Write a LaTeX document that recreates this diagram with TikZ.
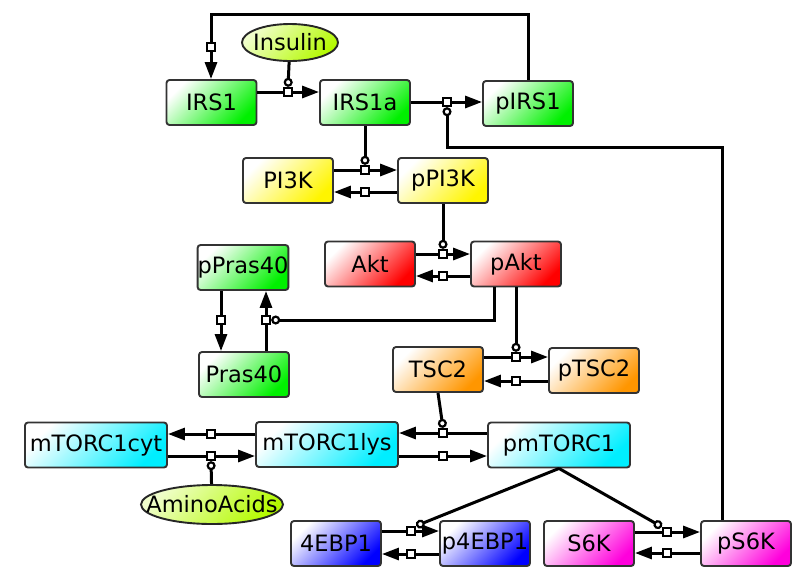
\documentclass[tikz,border=0pt]{standalone}
\usepackage{fontspec}
\setmainfont{DejaVu Sans}
\usetikzlibrary{shapes.geometric,arrows.meta}
\definecolor{cgreen}{RGB}{0,240,0}
\definecolor{cyellow}{RGB}{255,245,0}
\definecolor{cred}{RGB}{255,0,0}
\definecolor{corange}{RGB}{255,150,0}
\definecolor{ccyan}{RGB}{0,238,255}
\definecolor{cblue}{RGB}{0,0,255}
\definecolor{cmagenta}{RGB}{255,0,220}
\definecolor{clime}{RGB}{180,250,0}
\tikzset{species/.style={draw=black!80, line width=1.9pt, rounded corners=3pt,
    minimum width=90pt, minimum height=45pt, inner sep=0pt,
    font=\fontsize{22.5}{27}\selectfont,
    top color=white, bottom color=#1, shading angle=45}}
\tikzset{wide/.style={species=#1, minimum width=142pt}}
\tikzset{ligand/.style={ellipse, draw=black!85, line width=1.9pt, inner sep=0pt,
    font=\fontsize{22.5}{27}\selectfont,
    top color=clime!20!white, bottom color=clime, shading angle=45}}
\tikzstyle{proc} = [draw, fill=white, line width=2.4pt, minimum size=8pt, inner sep=0pt]
\tikzstyle{line} = [line width=3pt]
\tikzstyle{arrow} = [line width=3pt, -{Triangle[length=17pt,width=12pt]}]
\tikzstyle{catal} = [line width=3pt, -{Circle[open,length=9pt,width=9pt,line width=2.2pt]}]

\begin{document}
\begin{tikzpicture}[x=1pt,y=-1pt]
  \useasboundingbox (0,0) rectangle (810,579);
  % species
  \node[ligand, minimum width=96pt, minimum height=37pt] (ins) at (290,42.5) {\makebox[0pt]{Insulin}};
  \node[species=cgreen] (IRS1) at (211.5,102.5) {IRS1};
  \node[species=cgreen] (IRS1a) at (365,102.5) {IRS1a};
  \node[species=cgreen] (pIRS1) at (528,103.5) {pIRS1};
  \node[species=cyellow] (PI3K) at (288,180.5) {PI3K};
  \node[species=cyellow] (pPI3K) at (443,180.5) {pPI3K};
  \node[species=cred] (Akt) at (370,264) {Akt};
  \node[species=cred] (pAkt) at (516,264) {pAkt};
  \node[species=cgreen] (pPras40) at (243,267.5) {pPras40};
  \node[species=cgreen] (Pras40) at (244,374.5) {Pras40};
  \node[species=corange] (TSC2) at (438,369.5) {TSC2};
  \node[species=corange] (pTSC2) at (594,370.5) {pTSC2};
  \node[wide=ccyan] (mTORcyt) at (96,445) {mTORC1cyt};
  \node[wide=ccyan] (mTORlys) at (327,444.5) {mTORC1lys};
  \node[wide=ccyan] (pmTOR) at (559,445) {pmTORC1};
  \node[ligand, minimum width=142pt, minimum height=39pt] (aa) at (212,504.5) {\makebox[0pt]{AminoAcids}};
  \node[species=cblue] (EBP) at (336,543.5) {4EBP1};
  \node[species=cblue] (pEBP) at (485,543.5) {p4EBP1};
  \node[species=cmagenta] (S6K) at (589,543.5) {S6K};
  \node[species=cmagenta] (pS6K) at (746,543.5) {pS6K};

  % processes
  \node[proc] (r1) at (288,92) {};
  \node[proc] (r2) at (447,102) {};
  \node[proc] (r3) at (211,47) {};
  \node[proc] (r4) at (365,170) {};
  \node[proc] (r5) at (365,192) {};
  \node[proc] (r6) at (443,254) {};
  \node[proc] (r7) at (443,276) {};
  \node[proc] (r8) at (221,320) {};
  \node[proc] (r9) at (266,320) {};
  \node[proc] (r10) at (516,357) {};
  \node[proc] (r11) at (516,381) {};
  \node[proc] (r12) at (443,433) {};
  \node[proc] (r13) at (443,456) {};
  \node[proc] (r14) at (211,434) {};
  \node[proc] (r15) at (211,456) {};
  \node[proc] (r16) at (411,531) {};
  \node[proc] (r17) at (411,554) {};
  \node[proc] (r18) at (667,532) {};
  \node[proc] (r19) at (667,553) {};

  % horizontal transitions
  \foreach \a/\r/\b in {IRS1.east/r1/IRS1a.west, IRS1a.east/r2/pIRS1.west,
      PI3K.east/r4/pPI3K.west, pPI3K.west/r5/PI3K.east,
      Akt.east/r6/pAkt.west, pAkt.west/r7/Akt.east,
      TSC2.east/r10/pTSC2.west, pTSC2.west/r11/TSC2.east,
      pmTOR.west/r12/mTORlys.east, mTORlys.east/r13/pmTOR.west,
      mTORlys.west/r14/mTORcyt.east, mTORcyt.east/r15/mTORlys.west,
      EBP.east/r16/pEBP.west, pEBP.west/r17/EBP.east,
      S6K.east/r18/pS6K.west, pS6K.west/r19/S6K.east}
  {
    \draw[line] (\a |- \r) -- (\r);
    \draw[arrow] (\r) -- (\b |- \r);
  }
  % vertical transitions
  \foreach \a/\r/\b in {pPras40.south/r8/Pras40.north, Pras40.north/r9/pPras40.south}
  {
    \draw[line] (\r |- \a) -- (\r);
    \draw[arrow] (\r) -- (\r |- \b);
  }
  \draw[line] (pIRS1.north) -- ++(0,-66) -| (r3);
  \draw[arrow] (r3) -- (r3 |- IRS1.north);

  % modulations
  \draw[catal] (ins) -- (r1.north);
  \draw[catal] ([xshift=-24pt]pS6K.north) |- ([yshift=-40pt]r2.south) -- (r2.south);
  \draw[catal] (IRS1a.south -| r4) -- (r4.north);
  \draw[catal] (pPI3K.south -| r6) -- (r6.north);
  \draw[catal] ([xshift=-22pt]pAkt.south) |- (r9.east);
  \draw[catal] (pAkt.south) -- (r10.north);
  \draw[catal] (TSC2.south) -- (r12.north);
  \draw[catal] (aa) -- (r15.south);
  \draw[catal] (pmTOR.south) -- (r16.north east);
  \draw[catal] (pmTOR.south) -- (r18.north west);
\end{tikzpicture}
\end{document}
